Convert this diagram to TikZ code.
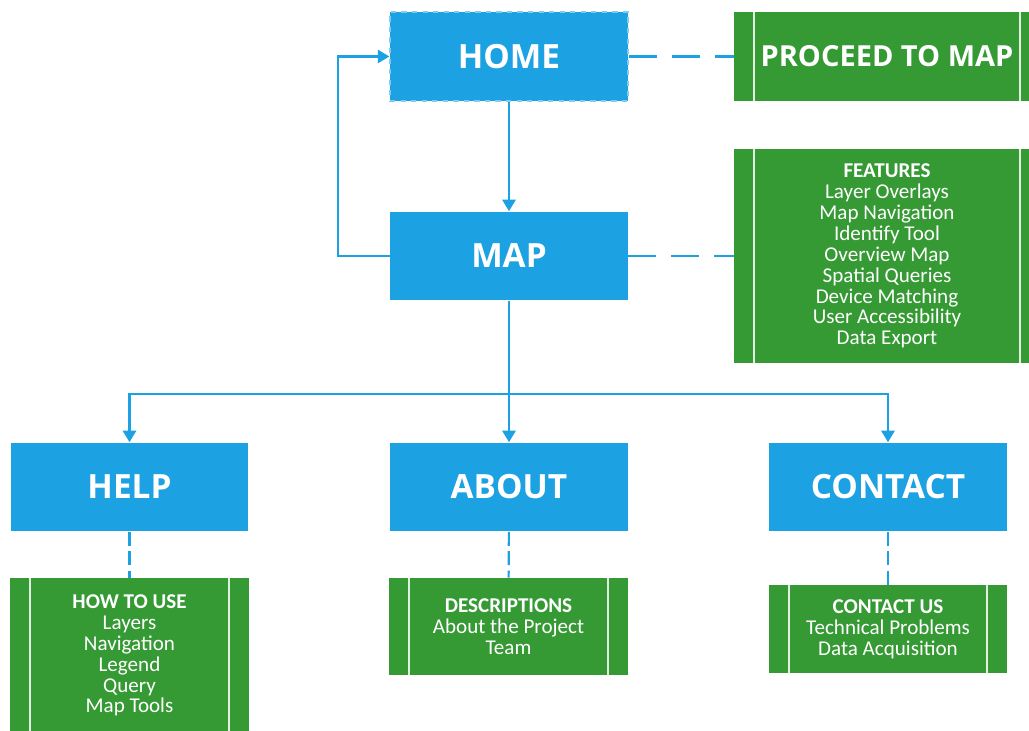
\documentclass[tikz,border=0pt]{standalone}
\usepackage{fontspec}
\usepackage{color}
\usepackage{tikz}
\usetikzlibrary{arrows.meta}

\newfontfamily\headfont{Open Sans}
\newfontfamily\listfont{Carlito}
\definecolor{pageblue}{RGB}{28,161,226}
\definecolor{infogreen}{RGB}{53,153,52}

\begin{document}
\begin{tikzpicture}[x=0.02cm, y=-0.02cm,
    bluebox/.style={fill=pageblue, text=white, minimum width=4.76cm, minimum height=1.78cm, inner sep=0pt, font=\headfont\bfseries\fontsize{19}{21}\selectfont},
    greenbox/.style={fill=infogreen, text=white, inner sep=0pt, align=center, font=\listfont\fontsize{12}{11.9}\selectfont},
    link/.style={line width=1.2pt, pageblue, -{Triangle[length=6.5pt,width=7.5pt]}},
    plainlink/.style={line width=1.2pt, pageblue},
    dashlink/.style={line width=1.2pt, pageblue, dash pattern=on 16pt off 8.5pt},
    vdashlink/.style={line width=1.2pt, pageblue, dash pattern=on 8pt off 3pt}]
    \useasboundingbox (0,0) rectangle (1029,731);

    \node[bluebox, draw=white!45!pageblue, dashed, line width=0.8pt] (home) at (509,56.5) {HOME};
    \node[bluebox] (map) at (509,256) {MAP};
    \node[bluebox] (help) at (129.5,487) {HELP};
    \node[bluebox] (about) at (509,487) {ABOUT};
    \node[bluebox] (contact) at (888,487) {CONTACT};

    \node[greenbox, minimum width=6.12cm, minimum height=1.78cm, font=\headfont\bfseries\fontsize{16.5}{19}\selectfont] (proceed) at (887,56.5) {PROCEED TO MAP};
    \node[greenbox, minimum width=6.12cm, minimum height=4.28cm] (features) at (887,256) {\textbf{FEATURES}\\Layer Overlays\\Map Navigation\\Identify Tool\\Overview Map\\Spatial Queries\\Device Matching\\User Accessibility\\Data Export};
    \node[greenbox, minimum width=4.78cm, minimum height=3.1cm] (howto) at (129.5,655.5) {\textbf{HOW TO USE}\\Layers\\Navigation\\Legend\\Query\\Map Tools};
    \node[greenbox, minimum width=4.78cm, minimum height=1.94cm] (descr) at (508.5,626.5) {\textbf{DESCRIPTIONS}\\About the Project\\Team};
    \node[greenbox, minimum width=4.76cm, minimum height=1.76cm] (contactus) at (888,629) {\textbf{CONTACT US}\\Technical Problems\\Data Acquisition};

    \foreach \gbox in {proceed, features, howto, descr, contactus} {
        \draw[line width=1.2pt, white!85!infogreen] ([xshift=0.4cm]\gbox.north west) -- ([xshift=0.4cm]\gbox.south west);
        \draw[line width=1.2pt, white!85!infogreen] ([xshift=-0.4cm]\gbox.north east) -- ([xshift=-0.4cm]\gbox.south east);
    }

    \coordinate (split) at (509,394);
    \draw[link] (home) -- (map);
    \draw[link] (map.west) -- ++(-52,0) |- (home.west);
    \draw[dashlink] (home) -- (proceed);
    \draw[dashlink] (map) -- (features);
    \draw[plainlink] (map) -- (split);
    \draw[link] (split) -| (help);
    \draw[link] (split) -- (about);
    \draw[link] (split) -| (contact);
    \draw[vdashlink] (help) -- (howto);
    \draw[vdashlink] (about) -- (descr);
    \draw[vdashlink] (contact) -- (contactus);
\end{tikzpicture}
\end{document}
